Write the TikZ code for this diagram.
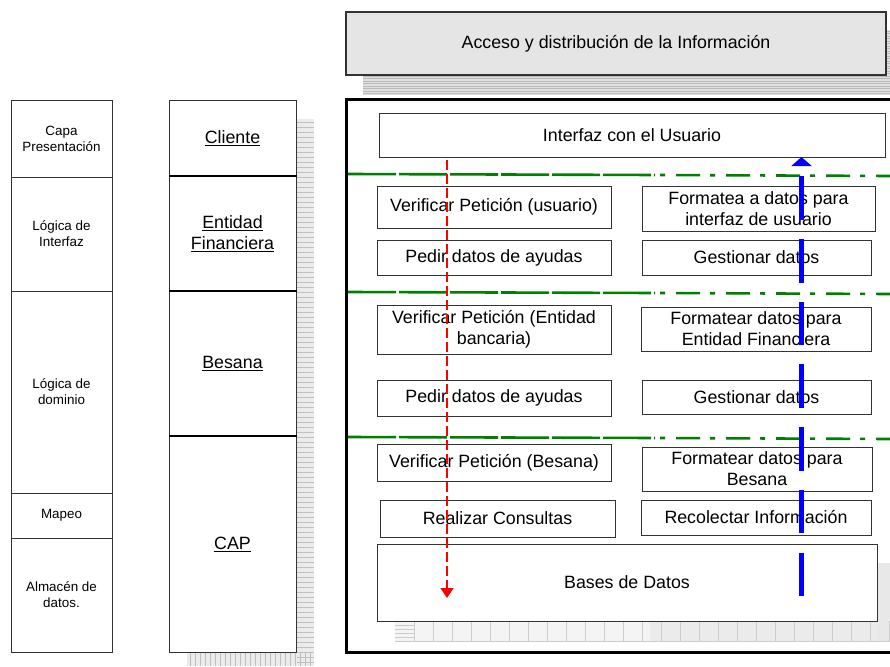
\documentclass[tikz,border=0pt]{standalone}
\usepackage{fontspec}
\setmainfont{Liberation Sans}
\usetikzlibrary{arrows.meta}
\definecolor{dgreen}{RGB}{0,128,0}
\newcommand\bigfs{\fontsize{17.8}{21}\selectfont}
\newcommand\smallfs{\fontsize{13.4}{16}\selectfont}
\begin{document}
\begin{tikzpicture}[x=1pt,y=-1pt,
  box/.style={draw=black!80, line width=1pt, fill=white, font=\bigfs, align=center, inner sep=0pt},
  cellA/.style={draw=black!80, line width=0.9pt, minimum width=101pt, font=\smallfs, align=center, inner sep=0pt},
  cellB/.style={draw=black!80, line width=0.9pt, minimum width=127pt, font=\bigfs, align=center, inner sep=0pt},
  divider/.style={line width=2.6pt, black},
  sepline/.style={line width=2.6pt, dgreen},
  shadowfill/.style={fill=gray!16},
  shadowline/.style={gray!50, line width=0.5pt},
  redflow/.style={red, line width=1.3pt, dash pattern=on 10pt off 4pt, -{Triangle[width=13pt,length=10pt]}},
  blueflow/.style={blue, line width=4.3pt, dash pattern=on 43.5pt off 19.2pt, -{Triangle[width=20pt,length=9pt]}}
]
\useasboundingbox (0,0) rectangle (890,666);
\clip (0,0) rectangle (890,666);

% header shadow
\fill[gray!24] (363,30) rectangle (890,95);
\foreach \y in {76,78.5,...,95} \draw[gray!55, line width=0.6pt] (363,\y) -- (890,\y);
\foreach \y in {31,33.5,...,75} \draw[gray!55, line width=0.6pt] (886,\y) -- (890,\y);
% header
\node[box, fill=gray!20, line width=1.3pt, minimum width=540pt, minimum height=63pt] (hdr) at (616,43.5) {Acceso y distribución de la Información};

% column 2 shadow
\fill[shadowfill] (296,119) rectangle (314,666);
\fill[shadowfill] (187,652) rectangle (314,666);
\foreach \y in {122,127,...,664} \draw[shadowline] (297,\y) -- (314,\y);
\foreach \x in {190,195,...,312} \draw[shadowline] (\x,653) -- (\x,666);

% column 1
\node[cellA, minimum height=77pt] (ca1) at (61.5,138.5) {Capa\\Presentación};
\node[cellA, minimum height=114pt] (ca2) at (61.5,234) {Lógica de\\Interfaz};
\node[cellA, minimum height=202pt] (ca3) at (61.5,392) {Lógica de\\dominio};
\node[cellA, minimum height=45pt] (ca4) at (61.5,515.5) {Mapeo};
\node[cellA, minimum height=114pt] (ca5) at (61.5,595) {Almacén de\\datos.};

% column 2
\node[cellB, minimum height=76pt] (cb1) at (232.5,138) {\underline{Cliente}};
\node[cellB, minimum height=115pt] (cb2) at (232.5,233.5) {\underline{Entidad}\\\underline{Financiera}};
\node[cellB, minimum height=145pt] (cb3) at (232.5,363.5) {\underline{Besana}};
\node[cellB, minimum height=216pt] (cb4) at (232.5,544) {\underline{CAP}};
\draw[divider] (169,176) -- (297,176);
\draw[divider] (169,291) -- (297,291);
\draw[divider] (169,436) -- (297,436);

% big frame
\draw[line width=3pt, fill=white] (346,100) rectangle (900,652);

% shadow of Bases de Datos
\fill[gray!9] (395,621) rectangle (890,641);
\fill[gray!16] (650,621) rectangle (890,641);
\fill[gray!18] (877,563) rectangle (890,641);
\foreach \x in {414,433,...,890} \draw[gray!40, line width=0.6pt] (\x,621) -- (\x,641);
\foreach \y in {625,629,633,637} \draw[gray!40, line width=0.5pt] (395,\y) -- (414,\y);
\draw[gray!40, line width=0.5pt] (395,641) -- (890,641);

% separator lines
\draw[sepline, dash pattern=on 48pt off 3pt] (348,174) -- (655,175);
\draw[sepline, dash pattern=on 5pt off 11pt on 24pt off 10pt] (660,175) -- (890,176);
\draw[sepline, dash pattern=on 48pt off 3pt] (348,292) -- (655,293);
\draw[sepline, dash pattern=on 5pt off 11pt on 24pt off 10pt] (660,293) -- (890,294);
\draw[sepline, dash pattern=on 48pt off 3pt] (348,437) -- (655,438);
\draw[sepline, dash pattern=on 5pt off 11pt on 24pt off 10pt] (660,438) -- (890,439);

% boxes
\node[box, minimum width=506pt, minimum height=44pt] (ui) at (632,135) {Interfaz con el Usuario};
\node[box, minimum width=234pt, minimum height=42pt] (v1) at (494,207) {Verificar Petición (usuario)};
\node[box, minimum width=233pt, minimum height=45pt] (f1) at (758.5,208.5) {Formatea a datos para\\interfaz de usuario};
\node[box, minimum width=234pt, minimum height=35pt] (p1) at (494,257.5) {Pedir datos de ayudas};
\node[box, minimum width=229pt, minimum height=35pt] (g1) at (756.5,257.5) {Gestionar datos};
\node[box, minimum width=234pt, minimum height=49pt] (v2) at (494,329.5) {Verificar Petición (Entidad\\bancaria)};
\node[box, minimum width=230pt, minimum height=44pt] (f2) at (756,329) {Formatear datos para\\Entidad Financiera};
\node[box, minimum width=234pt, minimum height=36pt] (p2) at (494,398) {Pedir datos de ayudas};
\node[box, minimum width=229pt, minimum height=34pt] (g2) at (756.5,397) {Gestionar datos};
\node[box, minimum width=234pt, minimum height=37pt] (v3) at (494,462.5) {Verificar Petición (Besana)};
\node[box, minimum width=230pt, minimum height=44pt] (f3) at (757,469) {Formatear datos para\\Besana};
\node[box, minimum width=235pt, minimum height=37pt] (r3) at (497.5,518.5) {Realizar Consultas};
\node[box, minimum width=230pt, minimum height=35pt] (c3) at (756,517.5) {Recolectar Información};
\node[box, minimum width=500pt, minimum height=77pt] (db) at (627,582.5) {Bases de Datos};

% flows
\coordinate (rs) at (447,160);
\coordinate (re) at (447,598);
\draw[redflow] (rs) -- (re);
\coordinate (bs) at (801.5,596);
\coordinate (be) at (801.5,157);
\draw[blueflow] (bs) -- (be);
\end{tikzpicture}
\end{document}
